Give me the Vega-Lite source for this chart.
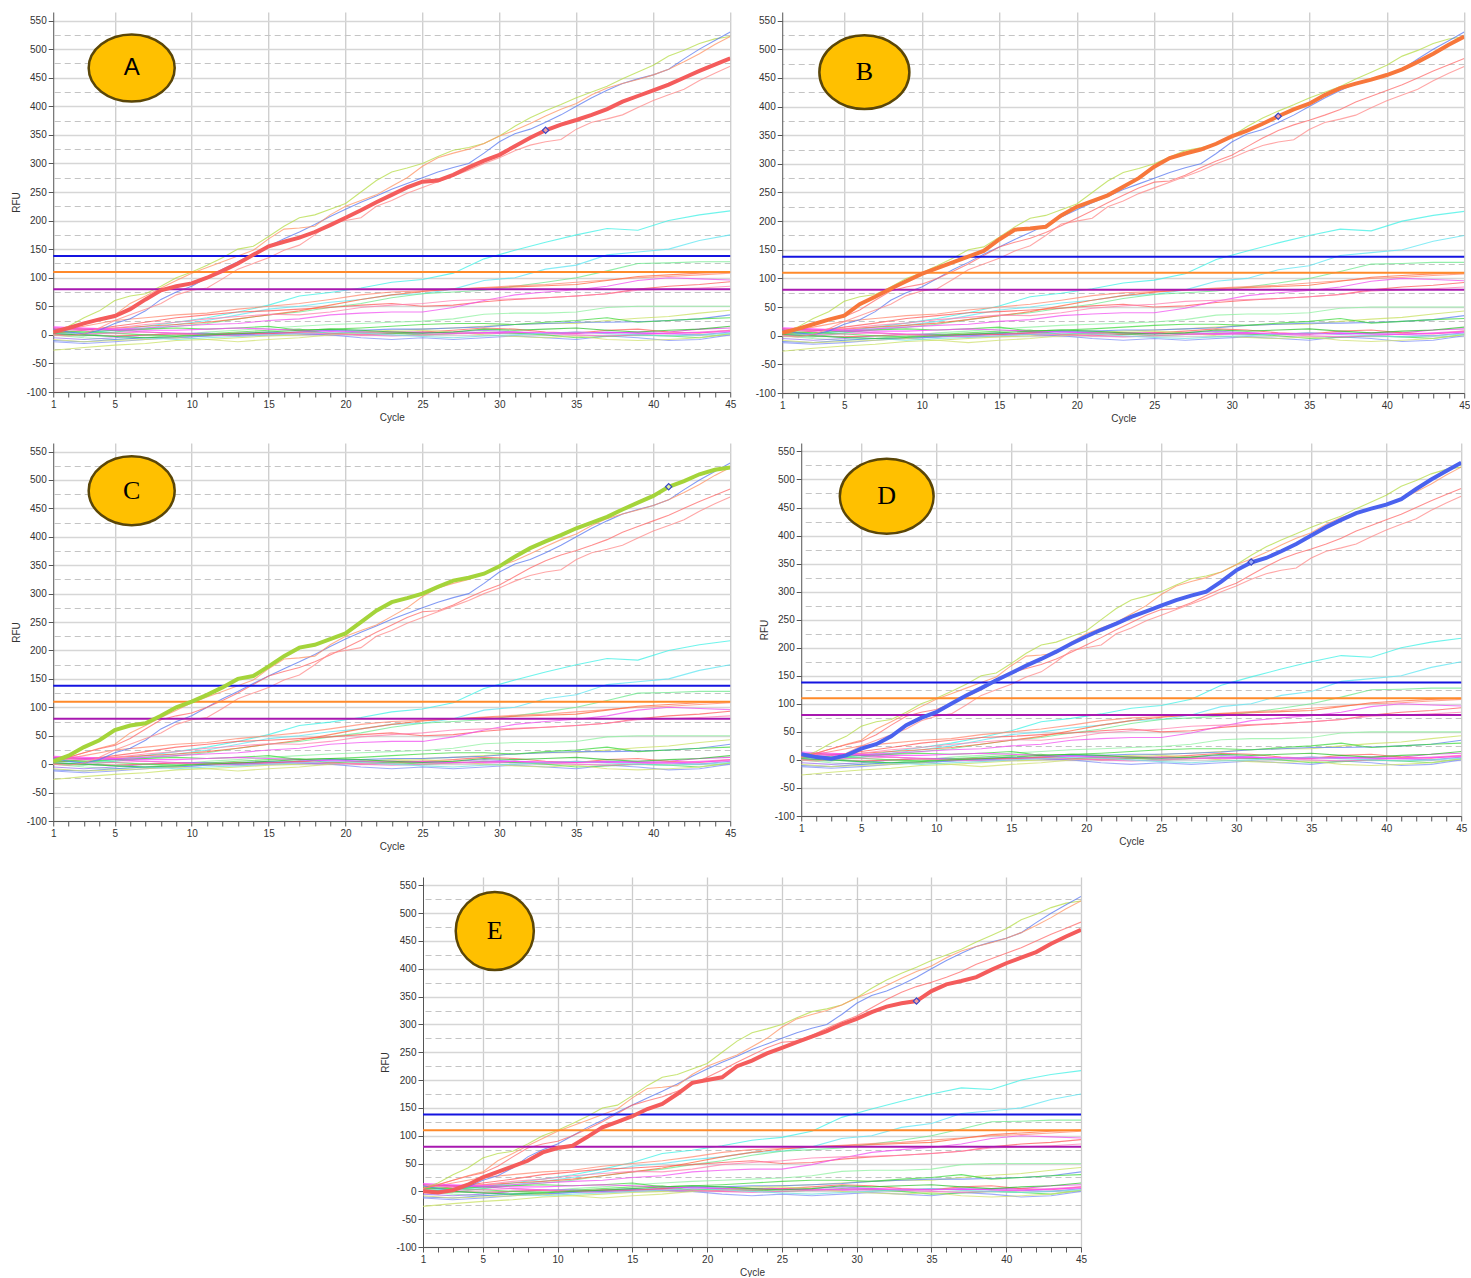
{
"$schema": "https://vega.github.io/schema/vega-lite/v6.json",
"background": "white",
"padding": {"left": 11, "top": 12, "right": 0, "bottom": 0},
"config": {
 "view": {"stroke": null},
 "axis": {"labelFont": "Liberation Sans", "labelFontSize": 10, "labelColor": "#333333", "titleFont": "Liberation Sans", "titleFontSize": 10, "titleFontWeight": "normal", "titleColor": "#333333", "tickColor": "#555555", "domainColor": "#555555", "tickSize": 5, "labelPadding": 2}
},
"datasets": {
"curves": [
{"s":"c1","c":1,"v":5},{"s":"c1","c":3,"v":3},{"s":"c1","c":5,"v":8},{"s":"c1","c":7,"v":15},{"s":"c1","c":9,"v":22},{"s":"c1","c":11,"v":30},{"s":"c1","c":13,"v":40},{"s":"c1","c":15,"v":52},{"s":"c1","c":17,"v":68},{"s":"c1","c":19,"v":74},{"s":"c1","c":21,"v":82},{"s":"c1","c":23,"v":92},{"s":"c1","c":25,"v":97},{"s":"c1","c":27,"v":108},{"s":"c1","c":29,"v":133},{"s":"c1","c":31,"v":148},{"s":"c1","c":33,"v":162},{"s":"c1","c":35,"v":175},{"s":"c1","c":37,"v":186},{"s":"c1","c":39,"v":183},{"s":"c1","c":41,"v":200},{"s":"c1","c":43,"v":210},{"s":"c1","c":45,"v":217},
{"s":"c2","c":1,"v":0},{"s":"c2","c":3,"v":2},{"s":"c2","c":5,"v":5},{"s":"c2","c":7,"v":12},{"s":"c2","c":9,"v":18},{"s":"c2","c":11,"v":25},{"s":"c2","c":13,"v":35},{"s":"c2","c":15,"v":45},{"s":"c2","c":17,"v":50},{"s":"c2","c":19,"v":57},{"s":"c2","c":21,"v":62},{"s":"c2","c":23,"v":70},{"s":"c2","c":25,"v":72},{"s":"c2","c":27,"v":80},{"s":"c2","c":29,"v":95},{"s":"c2","c":31,"v":100},{"s":"c2","c":33,"v":115},{"s":"c2","c":35,"v":122},{"s":"c2","c":37,"v":140},{"s":"c2","c":39,"v":145},{"s":"c2","c":41,"v":150},{"s":"c2","c":43,"v":165},{"s":"c2","c":45,"v":175},
{"s":"g1","c":1,"v":0},{"s":"g1","c":3,"v":-2},{"s":"g1","c":5,"v":5},{"s":"g1","c":7,"v":10},{"s":"g1","c":9,"v":15},{"s":"g1","c":11,"v":20},{"s":"g1","c":13,"v":28},{"s":"g1","c":15,"v":35},{"s":"g1","c":17,"v":40},{"s":"g1","c":19,"v":48},{"s":"g1","c":21,"v":55},{"s":"g1","c":23,"v":65},{"s":"g1","c":25,"v":72},{"s":"g1","c":27,"v":75},{"s":"g1","c":29,"v":78},{"s":"g1","c":31,"v":85},{"s":"g1","c":33,"v":92},{"s":"g1","c":35,"v":100},{"s":"g1","c":37,"v":112},{"s":"g1","c":39,"v":125},{"s":"g1","c":41,"v":126},{"s":"g1","c":43,"v":128},{"s":"g1","c":45,"v":128},
{"s":"s1","c":1,"v":5},{"s":"s1","c":3,"v":15},{"s":"s1","c":5,"v":25},{"s":"s1","c":7,"v":30},{"s":"s1","c":9,"v":35},{"s":"s1","c":11,"v":38},{"s":"s1","c":13,"v":45},{"s":"s1","c":15,"v":50},{"s":"s1","c":17,"v":55},{"s":"s1","c":19,"v":62},{"s":"s1","c":21,"v":70},{"s":"s1","c":23,"v":75},{"s":"s1","c":25,"v":77},{"s":"s1","c":27,"v":80},{"s":"s1","c":29,"v":83},{"s":"s1","c":31,"v":86},{"s":"s1","c":33,"v":88},{"s":"s1","c":35,"v":92},{"s":"s1","c":37,"v":96},{"s":"s1","c":39,"v":100},{"s":"s1","c":41,"v":102},{"s":"s1","c":43,"v":105},{"s":"s1","c":45,"v":108},
{"s":"r1","c":1,"v":3},{"s":"r1","c":3,"v":8},{"s":"r1","c":5,"v":15},{"s":"r1","c":7,"v":22},{"s":"r1","c":9,"v":30},{"s":"r1","c":11,"v":35},{"s":"r1","c":13,"v":40},{"s":"r1","c":15,"v":42},{"s":"r1","c":17,"v":45},{"s":"r1","c":19,"v":48},{"s":"r1","c":21,"v":52},{"s":"r1","c":23,"v":55},{"s":"r1","c":25,"v":50},{"s":"r1","c":27,"v":52},{"s":"r1","c":29,"v":58},{"s":"r1","c":31,"v":62},{"s":"r1","c":33,"v":65},{"s":"r1","c":35,"v":68},{"s":"r1","c":37,"v":72},{"s":"r1","c":39,"v":80},{"s":"r1","c":41,"v":85},{"s":"r1","c":43,"v":88},{"s":"r1","c":45,"v":93},
{"s":"m1","c":1,"v":10},{"s":"m1","c":3,"v":8},{"s":"m1","c":5,"v":10},{"s":"m1","c":7,"v":12},{"s":"m1","c":9,"v":15},{"s":"m1","c":11,"v":18},{"s":"m1","c":13,"v":20},{"s":"m1","c":15,"v":25},{"s":"m1","c":17,"v":28},{"s":"m1","c":19,"v":35},{"s":"m1","c":21,"v":38},{"s":"m1","c":23,"v":40},{"s":"m1","c":25,"v":40},{"s":"m1","c":27,"v":48},{"s":"m1","c":29,"v":60},{"s":"m1","c":31,"v":70},{"s":"m1","c":33,"v":75},{"s":"m1","c":35,"v":79},{"s":"m1","c":37,"v":85},{"s":"m1","c":39,"v":95},{"s":"m1","c":41,"v":100},{"s":"m1","c":43,"v":98},{"s":"m1","c":45,"v":96},
{"s":"o1","c":1,"v":12},{"s":"o1","c":3,"v":10},{"s":"o1","c":5,"v":12},{"s":"o1","c":7,"v":15},{"s":"o1","c":9,"v":18},{"s":"o1","c":11,"v":22},{"s":"o1","c":13,"v":28},{"s":"o1","c":15,"v":35},{"s":"o1","c":17,"v":42},{"s":"o1","c":19,"v":52},{"s":"o1","c":21,"v":62},{"s":"o1","c":23,"v":70},{"s":"o1","c":25,"v":76},{"s":"o1","c":27,"v":80},{"s":"o1","c":29,"v":82},{"s":"o1","c":31,"v":84},{"s":"o1","c":33,"v":86},{"s":"o1","c":35,"v":88},{"s":"o1","c":37,"v":95},{"s":"o1","c":39,"v":102},{"s":"o1","c":41,"v":105},{"s":"o1","c":43,"v":108},{"s":"o1","c":45,"v":110},
{"s":"p1","c":1,"v":8},{"s":"p1","c":3,"v":10},{"s":"p1","c":5,"v":12},{"s":"p1","c":7,"v":18},{"s":"p1","c":9,"v":22},{"s":"p1","c":11,"v":28},{"s":"p1","c":13,"v":32},{"s":"p1","c":15,"v":36},{"s":"p1","c":17,"v":35},{"s":"p1","c":19,"v":40},{"s":"p1","c":21,"v":48},{"s":"p1","c":23,"v":52},{"s":"p1","c":25,"v":55},{"s":"p1","c":27,"v":60},{"s":"p1","c":29,"v":62},{"s":"p1","c":31,"v":63},{"s":"p1","c":33,"v":65},{"s":"p1","c":35,"v":68},{"s":"p1","c":37,"v":72},{"s":"p1","c":39,"v":78},{"s":"p1","c":41,"v":80},{"s":"p1","c":43,"v":82},{"s":"p1","c":45,"v":85},
{"s":"g2","c":1,"v":0},{"s":"g2","c":3,"v":-5},{"s":"g2","c":5,"v":-8},{"s":"g2","c":7,"v":-5},{"s":"g2","c":9,"v":0},{"s":"g2","c":11,"v":5},{"s":"g2","c":13,"v":8},{"s":"g2","c":15,"v":12},{"s":"g2","c":17,"v":15},{"s":"g2","c":19,"v":18},{"s":"g2","c":21,"v":20},{"s":"g2","c":23,"v":22},{"s":"g2","c":25,"v":24},{"s":"g2","c":27,"v":28},{"s":"g2","c":29,"v":36},{"s":"g2","c":31,"v":38},{"s":"g2","c":33,"v":38},{"s":"g2","c":35,"v":40},{"s":"g2","c":37,"v":48},{"s":"g2","c":39,"v":50},{"s":"g2","c":41,"v":50},{"s":"g2","c":43,"v":50},{"s":"g2","c":45,"v":50},
{"s":"y1","c":1,"v":-27},{"s":"y1","c":3,"v":-22},{"s":"y1","c":5,"v":-18},{"s":"y1","c":7,"v":-15},{"s":"y1","c":9,"v":-10},{"s":"y1","c":11,"v":-8},{"s":"y1","c":13,"v":-5},{"s":"y1","c":15,"v":-2},{"s":"y1","c":17,"v":0},{"s":"y1","c":19,"v":2},{"s":"y1","c":21,"v":5},{"s":"y1","c":23,"v":8},{"s":"y1","c":25,"v":10},{"s":"y1","c":27,"v":12},{"s":"y1","c":29,"v":15},{"s":"y1","c":31,"v":18},{"s":"y1","c":33,"v":20},{"s":"y1","c":35,"v":20},{"s":"y1","c":37,"v":25},{"s":"y1","c":39,"v":29},{"s":"y1","c":41,"v":32},{"s":"y1","c":43,"v":38},{"s":"y1","c":45,"v":43},
{"s":"b1","c":1,"v":-10},{"s":"b1","c":3,"v":-12},{"s":"b1","c":5,"v":-8},{"s":"b1","c":7,"v":-5},{"s":"b1","c":9,"v":-5},{"s":"b1","c":11,"v":-2},{"s":"b1","c":13,"v":0},{"s":"b1","c":15,"v":3},{"s":"b1","c":17,"v":5},{"s":"b1","c":19,"v":8},{"s":"b1","c":21,"v":8},{"s":"b1","c":23,"v":10},{"s":"b1","c":25,"v":10},{"s":"b1","c":27,"v":12},{"s":"b1","c":29,"v":14},{"s":"b1","c":31,"v":18},{"s":"b1","c":33,"v":20},{"s":"b1","c":35,"v":22},{"s":"b1","c":37,"v":22},{"s":"b1","c":39,"v":23},{"s":"b1","c":41,"v":25},{"s":"b1","c":43,"v":28},{"s":"b1","c":45,"v":35},
{"s":"g3","c":1,"v":5},{"s":"g3","c":3,"v":5},{"s":"g3","c":5,"v":8},{"s":"g3","c":7,"v":10},{"s":"g3","c":9,"v":12},{"s":"g3","c":11,"v":10},{"s":"g3","c":13,"v":12},{"s":"g3","c":15,"v":15},{"s":"g3","c":17,"v":8},{"s":"g3","c":19,"v":10},{"s":"g3","c":21,"v":12},{"s":"g3","c":23,"v":15},{"s":"g3","c":25,"v":18},{"s":"g3","c":27,"v":20},{"s":"g3","c":29,"v":20},{"s":"g3","c":31,"v":18},{"s":"g3","c":33,"v":22},{"s":"g3","c":35,"v":25},{"s":"g3","c":37,"v":30},{"s":"g3","c":39,"v":22},{"s":"g3","c":41,"v":25},{"s":"g3","c":43,"v":28},{"s":"g3","c":45,"v":30},
{"s":"m2","c":1,"v":12},{"s":"m2","c":3,"v":10},{"s":"m2","c":5,"v":8},{"s":"m2","c":7,"v":5},{"s":"m2","c":9,"v":3},{"s":"m2","c":11,"v":2},{"s":"m2","c":13,"v":2},{"s":"m2","c":15,"v":3},{"s":"m2","c":17,"v":2},{"s":"m2","c":19,"v":0},{"s":"m2","c":21,"v":2},{"s":"m2","c":23,"v":5},{"s":"m2","c":25,"v":5},{"s":"m2","c":27,"v":3},{"s":"m2","c":29,"v":2},{"s":"m2","c":31,"v":3},{"s":"m2","c":33,"v":2},{"s":"m2","c":35,"v":5},{"s":"m2","c":37,"v":3},{"s":"m2","c":39,"v":5},{"s":"m2","c":41,"v":5},{"s":"m2","c":43,"v":10},{"s":"m2","c":45,"v":12},
{"s":"v1","c":1,"v":-5},{"s":"v1","c":3,"v":-8},{"s":"v1","c":5,"v":-5},{"s":"v1","c":7,"v":0},{"s":"v1","c":9,"v":2},{"s":"v1","c":11,"v":3},{"s":"v1","c":13,"v":0},{"s":"v1","c":15,"v":2},{"s":"v1","c":17,"v":5},{"s":"v1","c":19,"v":8},{"s":"v1","c":21,"v":5},{"s":"v1","c":23,"v":2},{"s":"v1","c":25,"v":3},{"s":"v1","c":27,"v":5},{"s":"v1","c":29,"v":8},{"s":"v1","c":31,"v":5},{"s":"v1","c":33,"v":2},{"s":"v1","c":35,"v":3},{"s":"v1","c":37,"v":5},{"s":"v1","c":39,"v":3},{"s":"v1","c":41,"v":2},{"s":"v1","c":43,"v":0},{"s":"v1","c":45,"v":5},
{"s":"b2","c":1,"v":-12},{"s":"b2","c":3,"v":-15},{"s":"b2","c":5,"v":-12},{"s":"b2","c":7,"v":-8},{"s":"b2","c":9,"v":-5},{"s":"b2","c":11,"v":-2},{"s":"b2","c":13,"v":3},{"s":"b2","c":15,"v":5},{"s":"b2","c":17,"v":2},{"s":"b2","c":19,"v":0},{"s":"b2","c":21,"v":-5},{"s":"b2","c":23,"v":-8},{"s":"b2","c":25,"v":-5},{"s":"b2","c":27,"v":-8},{"s":"b2","c":29,"v":-5},{"s":"b2","c":31,"v":-2},{"s":"b2","c":33,"v":-5},{"s":"b2","c":35,"v":-8},{"s":"b2","c":37,"v":-2},{"s":"b2","c":39,"v":-5},{"s":"b2","c":41,"v":-10},{"s":"b2","c":43,"v":-8},{"s":"b2","c":45,"v":0},
{"s":"r2","c":1,"v":2},{"s":"r2","c":3,"v":0},{"s":"r2","c":5,"v":-2},{"s":"r2","c":7,"v":0},{"s":"r2","c":9,"v":2},{"s":"r2","c":11,"v":0},{"s":"r2","c":13,"v":3},{"s":"r2","c":15,"v":2},{"s":"r2","c":17,"v":5},{"s":"r2","c":19,"v":3},{"s":"r2","c":21,"v":0},{"s":"r2","c":23,"v":2},{"s":"r2","c":25,"v":5},{"s":"r2","c":27,"v":8},{"s":"r2","c":29,"v":12},{"s":"r2","c":31,"v":10},{"s":"r2","c":33,"v":5},{"s":"r2","c":35,"v":3},{"s":"r2","c":37,"v":8},{"s":"r2","c":39,"v":10},{"s":"r2","c":41,"v":5},{"s":"r2","c":43,"v":3},{"s":"r2","c":45,"v":8},
{"s":"g4","c":1,"v":8},{"s":"g4","c":3,"v":5},{"s":"g4","c":5,"v":3},{"s":"g4","c":7,"v":0},{"s":"g4","c":9,"v":-2},{"s":"g4","c":11,"v":2},{"s":"g4","c":13,"v":5},{"s":"g4","c":15,"v":8},{"s":"g4","c":17,"v":10},{"s":"g4","c":19,"v":2},{"s":"g4","c":21,"v":5},{"s":"g4","c":23,"v":3},{"s":"g4","c":25,"v":0},{"s":"g4","c":27,"v":2},{"s":"g4","c":29,"v":5},{"s":"g4","c":31,"v":3},{"s":"g4","c":33,"v":0},{"s":"g4","c":35,"v":-5},{"s":"g4","c":37,"v":-3},{"s":"g4","c":39,"v":0},{"s":"g4","c":41,"v":-2},{"s":"g4","c":43,"v":-5},{"s":"g4","c":45,"v":2},
{"s":"y2","c":1,"v":-8},{"s":"y2","c":3,"v":-12},{"s":"y2","c":5,"v":-10},{"s":"y2","c":7,"v":-8},{"s":"y2","c":9,"v":-5},{"s":"y2","c":11,"v":-8},{"s":"y2","c":13,"v":-12},{"s":"y2","c":15,"v":-8},{"s":"y2","c":17,"v":-5},{"s":"y2","c":19,"v":0},{"s":"y2","c":21,"v":3},{"s":"y2","c":23,"v":5},{"s":"y2","c":25,"v":8},{"s":"y2","c":27,"v":5},{"s":"y2","c":29,"v":0},{"s":"y2","c":31,"v":-3},{"s":"y2","c":33,"v":-5},{"s":"y2","c":35,"v":-2},{"s":"y2","c":37,"v":-8},{"s":"y2","c":39,"v":-10},{"s":"y2","c":41,"v":-8},{"s":"y2","c":43,"v":-5},{"s":"y2","c":45,"v":2},
{"s":"p2","c":1,"v":0},{"s":"p2","c":3,"v":2},{"s":"p2","c":5,"v":3},{"s":"p2","c":7,"v":5},{"s":"p2","c":9,"v":2},{"s":"p2","c":11,"v":0},{"s":"p2","c":13,"v":-2},{"s":"p2","c":15,"v":0},{"s":"p2","c":17,"v":3},{"s":"p2","c":19,"v":2},{"s":"p2","c":21,"v":0},{"s":"p2","c":23,"v":-2},{"s":"p2","c":25,"v":0},{"s":"p2","c":27,"v":2},{"s":"p2","c":29,"v":3},{"s":"p2","c":31,"v":5},{"s":"p2","c":33,"v":2},{"s":"p2","c":35,"v":0},{"s":"p2","c":37,"v":-2},{"s":"p2","c":39,"v":0},{"s":"p2","c":41,"v":3},{"s":"p2","c":43,"v":5},{"s":"p2","c":45,"v":8},
{"s":"c3","c":1,"v":3},{"s":"c3","c":3,"v":0},{"s":"c3","c":5,"v":-3},{"s":"c3","c":7,"v":-5},{"s":"c3","c":9,"v":-8},{"s":"c3","c":11,"v":-5},{"s":"c3","c":13,"v":-3},{"s":"c3","c":15,"v":0},{"s":"c3","c":17,"v":2},{"s":"c3","c":19,"v":5},{"s":"c3","c":21,"v":3},{"s":"c3","c":23,"v":0},{"s":"c3","c":25,"v":-3},{"s":"c3","c":27,"v":-5},{"s":"c3","c":29,"v":-2},{"s":"c3","c":31,"v":0},{"s":"c3","c":33,"v":3},{"s":"c3","c":35,"v":5},{"s":"c3","c":37,"v":2},{"s":"c3","c":39,"v":0},{"s":"c3","c":41,"v":-2},{"s":"c3","c":43,"v":0},{"s":"c3","c":45,"v":3},
{"s":"m3","c":1,"v":14},{"s":"m3","c":3,"v":12},{"s":"m3","c":5,"v":10},{"s":"m3","c":7,"v":8},{"s":"m3","c":9,"v":8},{"s":"m3","c":11,"v":10},{"s":"m3","c":13,"v":12},{"s":"m3","c":15,"v":10},{"s":"m3","c":17,"v":8},{"s":"m3","c":19,"v":6},{"s":"m3","c":21,"v":5},{"s":"m3","c":23,"v":5},{"s":"m3","c":25,"v":4},{"s":"m3","c":27,"v":3},{"s":"m3","c":29,"v":4},{"s":"m3","c":31,"v":5},{"s":"m3","c":33,"v":4},{"s":"m3","c":35,"v":3},{"s":"m3","c":37,"v":4},{"s":"m3","c":39,"v":3},{"s":"m3","c":41,"v":2},{"s":"m3","c":43,"v":4},{"s":"m3","c":45,"v":6},
{"s":"g5","c":1,"v":2},{"s":"g5","c":3,"v":0},{"s":"g5","c":5,"v":-3},{"s":"g5","c":7,"v":-5},{"s":"g5","c":9,"v":-3},{"s":"g5","c":11,"v":0},{"s":"g5","c":13,"v":2},{"s":"g5","c":15,"v":5},{"s":"g5","c":17,"v":8},{"s":"g5","c":19,"v":10},{"s":"g5","c":21,"v":8},{"s":"g5","c":23,"v":5},{"s":"g5","c":25,"v":3},{"s":"g5","c":27,"v":5},{"s":"g5","c":29,"v":10},{"s":"g5","c":31,"v":8},{"s":"g5","c":33,"v":10},{"s":"g5","c":35,"v":12},{"s":"g5","c":37,"v":8},{"s":"g5","c":39,"v":5},{"s":"g5","c":41,"v":8},{"s":"g5","c":43,"v":10},{"s":"g5","c":45,"v":15},
{"s":"yg","c":1,"v":5},{"s":"yg","c":2,"v":15},{"s":"yg","c":3,"v":30},{"s":"yg","c":4,"v":42},{"s":"yg","c":5,"v":60},{"s":"yg","c":6,"v":68},{"s":"yg","c":7,"v":72},{"s":"yg","c":8,"v":85},{"s":"yg","c":9,"v":100},{"s":"yg","c":10,"v":110},{"s":"yg","c":11,"v":122},{"s":"yg","c":12,"v":135},{"s":"yg","c":13,"v":150},{"s":"yg","c":14,"v":155},{"s":"yg","c":15,"v":172},{"s":"yg","c":16,"v":190},{"s":"yg","c":17,"v":205},{"s":"yg","c":18,"v":210},{"s":"yg","c":19,"v":220},{"s":"yg","c":20,"v":230},{"s":"yg","c":21,"v":250},{"s":"yg","c":22,"v":270},{"s":"yg","c":23,"v":285},{"s":"yg","c":24,"v":292},{"s":"yg","c":25,"v":300},{"s":"yg","c":26,"v":312},{"s":"yg","c":27,"v":323},{"s":"yg","c":28,"v":328},{"s":"yg","c":29,"v":335},{"s":"yg","c":30,"v":348},{"s":"yg","c":31,"v":365},{"s":"yg","c":32,"v":380},{"s":"yg","c":33,"v":392},{"s":"yg","c":34,"v":403},{"s":"yg","c":35,"v":415},{"s":"yg","c":36,"v":425},{"s":"yg","c":37,"v":435},{"s":"yg","c":38,"v":448},{"s":"yg","c":39,"v":460},{"s":"yg","c":40,"v":472},{"s":"yg","c":41,"v":488},{"s":"yg","c":42,"v":498},{"s":"yg","c":43,"v":510},{"s":"yg","c":44,"v":518},{"s":"yg","c":45,"v":522},
{"s":"bl","c":1,"v":10},{"s":"bl","c":2,"v":5},{"s":"bl","c":3,"v":2},{"s":"bl","c":4,"v":8},{"s":"bl","c":5,"v":20},{"s":"bl","c":6,"v":28},{"s":"bl","c":7,"v":42},{"s":"bl","c":8,"v":62},{"s":"bl","c":9,"v":75},{"s":"bl","c":10,"v":85},{"s":"bl","c":11,"v":100},{"s":"bl","c":12,"v":115},{"s":"bl","c":13,"v":128},{"s":"bl","c":14,"v":142},{"s":"bl","c":15,"v":155},{"s":"bl","c":16,"v":168},{"s":"bl","c":17,"v":180},{"s":"bl","c":18,"v":193},{"s":"bl","c":19,"v":207},{"s":"bl","c":20,"v":220},{"s":"bl","c":21,"v":232},{"s":"bl","c":22,"v":243},{"s":"bl","c":23,"v":255},{"s":"bl","c":24,"v":265},{"s":"bl","c":25,"v":275},{"s":"bl","c":26,"v":285},{"s":"bl","c":27,"v":293},{"s":"bl","c":28,"v":300},{"s":"bl","c":29,"v":318},{"s":"bl","c":30,"v":338},{"s":"bl","c":31,"v":352},{"s":"bl","c":32,"v":360},{"s":"bl","c":33,"v":372},{"s":"bl","c":34,"v":385},{"s":"bl","c":35,"v":400},{"s":"bl","c":36,"v":415},{"s":"bl","c":37,"v":428},{"s":"bl","c":38,"v":440},{"s":"bl","c":39,"v":448},{"s":"bl","c":40,"v":455},{"s":"bl","c":41,"v":465},{"s":"bl","c":42,"v":483},{"s":"bl","c":43,"v":500},{"s":"bl","c":44,"v":515},{"s":"bl","c":45,"v":530},
{"s":"or","c":1,"v":5},{"s":"or","c":2,"v":12},{"s":"or","c":3,"v":20},{"s":"or","c":4,"v":28},{"s":"or","c":5,"v":35},{"s":"or","c":6,"v":55},{"s":"or","c":7,"v":68},{"s":"or","c":8,"v":82},{"s":"or","c":9,"v":95},{"s":"or","c":10,"v":108},{"s":"or","c":11,"v":118},{"s":"or","c":12,"v":128},{"s":"or","c":13,"v":138},{"s":"or","c":14,"v":148},{"s":"or","c":15,"v":168},{"s":"or","c":16,"v":185},{"s":"or","c":17,"v":187},{"s":"or","c":18,"v":190},{"s":"or","c":19,"v":210},{"s":"or","c":20,"v":225},{"s":"or","c":21,"v":235},{"s":"or","c":22,"v":245},{"s":"or","c":23,"v":260},{"s":"or","c":24,"v":275},{"s":"or","c":25,"v":295},{"s":"or","c":26,"v":310},{"s":"or","c":27,"v":318},{"s":"or","c":28,"v":325},{"s":"or","c":29,"v":335},{"s":"or","c":30,"v":348},{"s":"or","c":31,"v":358},{"s":"or","c":32,"v":370},{"s":"or","c":33,"v":383},{"s":"or","c":34,"v":395},{"s":"or","c":35,"v":405},{"s":"or","c":36,"v":420},{"s":"or","c":37,"v":432},{"s":"or","c":38,"v":440},{"s":"or","c":39,"v":447},{"s":"or","c":40,"v":455},{"s":"or","c":41,"v":465},{"s":"or","c":42,"v":478},{"s":"or","c":43,"v":492},{"s":"or","c":44,"v":508},{"s":"or","c":45,"v":522},
{"s":"ra","c":1,"v":5},{"s":"ra","c":2,"v":12},{"s":"ra","c":3,"v":20},{"s":"ra","c":4,"v":27},{"s":"ra","c":5,"v":33},{"s":"ra","c":6,"v":45},{"s":"ra","c":7,"v":62},{"s":"ra","c":8,"v":78},{"s":"ra","c":9,"v":85},{"s":"ra","c":10,"v":90},{"s":"ra","c":11,"v":100},{"s":"ra","c":12,"v":112},{"s":"ra","c":13,"v":125},{"s":"ra","c":14,"v":140},{"s":"ra","c":15,"v":155},{"s":"ra","c":16,"v":163},{"s":"ra","c":17,"v":170},{"s":"ra","c":18,"v":180},{"s":"ra","c":19,"v":192},{"s":"ra","c":20,"v":205},{"s":"ra","c":21,"v":218},{"s":"ra","c":22,"v":232},{"s":"ra","c":23,"v":245},{"s":"ra","c":24,"v":258},{"s":"ra","c":25,"v":268},{"s":"ra","c":26,"v":270},{"s":"ra","c":27,"v":280},{"s":"ra","c":28,"v":293},{"s":"ra","c":29,"v":305},{"s":"ra","c":30,"v":315},{"s":"ra","c":31,"v":330},{"s":"ra","c":32,"v":345},{"s":"ra","c":33,"v":358},{"s":"ra","c":34,"v":368},{"s":"ra","c":35,"v":376},{"s":"ra","c":36,"v":385},{"s":"ra","c":37,"v":395},{"s":"ra","c":38,"v":408},{"s":"ra","c":39,"v":418},{"s":"ra","c":40,"v":428},{"s":"ra","c":41,"v":438},{"s":"ra","c":42,"v":450},{"s":"ra","c":43,"v":462},{"s":"ra","c":44,"v":473},{"s":"ra","c":45,"v":484},
{"s":"re","c":1,"v":0},{"s":"re","c":2,"v":-2},{"s":"re","c":3,"v":2},{"s":"re","c":4,"v":12},{"s":"re","c":5,"v":25},{"s":"re","c":6,"v":35},{"s":"re","c":7,"v":45},{"s":"re","c":8,"v":55},{"s":"re","c":9,"v":70},{"s":"re","c":10,"v":78},{"s":"re","c":11,"v":82},{"s":"re","c":12,"v":98},{"s":"re","c":13,"v":115},{"s":"re","c":14,"v":125},{"s":"re","c":15,"v":135},{"s":"re","c":16,"v":148},{"s":"re","c":17,"v":157},{"s":"re","c":18,"v":175},{"s":"re","c":19,"v":195},{"s":"re","c":20,"v":200},{"s":"re","c":21,"v":205},{"s":"re","c":22,"v":225},{"s":"re","c":23,"v":235},{"s":"re","c":24,"v":248},{"s":"re","c":25,"v":258},{"s":"re","c":26,"v":268},{"s":"re","c":27,"v":278},{"s":"re","c":28,"v":288},{"s":"re","c":29,"v":300},{"s":"re","c":30,"v":310},{"s":"re","c":31,"v":322},{"s":"re","c":32,"v":332},{"s":"re","c":33,"v":338},{"s":"re","c":34,"v":342},{"s":"re","c":35,"v":360},{"s":"re","c":36,"v":372},{"s":"re","c":37,"v":378},{"s":"re","c":38,"v":385},{"s":"re","c":39,"v":398},{"s":"re","c":40,"v":410},{"s":"re","c":41,"v":420},{"s":"re","c":42,"v":430},{"s":"re","c":43,"v":445},{"s":"re","c":44,"v":458},{"s":"re","c":45,"v":470}
],
"one": [{}]
},
"vconcat": [
{"vconcat": [
{"hconcat": [
{"width": 677, "height": 380,
 "resolve": {"axis": {"x": "independent", "y": "independent"}},
 "layer": [
  {"data": {"name": "curves"}, "mark": {"type": "line", "strokeWidth": 1.1, "opacity": 0.75, "clip": true},
   "encoding": {
    "x": {"field": "c", "type": "quantitative", "scale": {"domain": [1, 45], "nice": false, "zero": false}, "axis": {"values": [1,2,3,4,5,6,7,8,9,10,11,12,13,14,15,16,17,18,19,20,21,22,23,24,25,26,27,28,29,30,31,32,33,34,35,36,37,38,39,40,41,42,43,44,45], "labelExpr": "datum.value==1||datum.value%5==0?datum.label:''", "labelOverlap": false, "labelFlush": false, "grid": false, "title": "Cycle", "titlePadding": 3}},
    "y": {"field": "v", "type": "quantitative", "scale": {"domain": [-100, 565], "nice": false, "zero": false}, "axis": {"values": [-100,-50,0,50,100,150,200,250,300,350,400,450,500,550], "labelExpr": "toString(datum.value)", "grid": true, "gridColor": "#d6d6d6", "gridWidth": 1.5, "title": "RFU", "titlePadding": 5}},
    "color": {"field": "s", "type": "nominal", "legend": null, "scale": {"domain": ["c1","c2","g1","s1","r1","m1","o1","p1","g2","y1","b1","g3","m2","v1","b2","r2","g4","y2","p2","c3","m3","g5","yg","bl","or","ra","re"], "range": ["#3ff0e6","#5fe6f2","#6fe88f","#ff8a70","#ff5a5a","#f050f0","#ff6a40","#ff80b0","#8ff0a0","#c8e060","#6080f0","#40d840","#e040e0","#a070f0","#8090f8","#ff6060","#50e050","#d0e070","#ff70d0","#70e0e0","#ff40ff","#30c030","#b5dc48","#5a78f0","#ff9466","#ff6b6b","#ff8a8a"]}}
   }},
  {"data": {"name": "one"}, "mark": {"type": "rule", "color": "#1414e0", "strokeWidth": 2}, "encoding": {"y": {"datum": 138, "type": "quantitative", "axis": null}}},
  {"data": {"name": "one"}, "mark": {"type": "rule", "color": "#ff8a2a", "strokeWidth": 2}, "encoding": {"y": {"datum": 110, "type": "quantitative", "axis": null}}},
  {"data": {"name": "one"}, "mark": {"type": "rule", "color": "#a818b0", "strokeWidth": 2}, "encoding": {"y": {"datum": 80, "type": "quantitative", "axis": null}}},
  {"data": {"name": "curves"}, "transform": [{"filter": "datum.s=='ra'"}], "mark": {"type": "line", "strokeWidth": 4, "color": "#f45c5c", "clip": true},
   "encoding": {
    "x": {"field": "c", "type": "quantitative", "axis": {"orient": "top", "values": [5,10,15,20,25,30,35,40,45], "grid": true, "gridColor": "#cccccc", "gridWidth": 1.3, "labels": false, "ticks": false, "domain": false, "title": null}},
    "y": {"field": "v", "type": "quantitative", "axis": {"orient": "right", "values": [-75,-25,25,75,125,175,225,275,325,375,425,475,525], "grid": true, "gridColor": "#c4c4c4", "gridDash": [6, 4], "gridWidth": 1.2, "labels": false, "ticks": false, "domain": false, "title": null}}
   }},
  {"data": {"values": [{"c": 33, "v": 358}]}, "mark": {"type": "point", "shape": "diamond", "size": 40, "filled": true, "fill": "#f3a0a0", "stroke": "#3848c8", "strokeWidth": 1.2, "opacity": 1},
   "encoding": {"x": {"field": "c", "type": "quantitative", "axis": null}, "y": {"field": "v", "type": "quantitative", "axis": null}}},
  {"data": {"values": [{"c": 6.1, "v": 467, "t": "A"}]}, "mark": {"type": "point", "shape": "M-1,0A1,0.78,0,1,1,1,0A1,0.78,0,1,1,-1,0Z", "size": 7400, "filled": true, "fill": "#ffc000", "stroke": "#5a4608", "strokeWidth": 2.5, "opacity": 1},
   "encoding": {"x": {"field": "c", "type": "quantitative", "axis": null}, "y": {"field": "v", "type": "quantitative", "axis": null}}},
  {"data": {"values": [{"c": 6.1, "v": 467, "t": "A"}]}, "mark": {"type": "text", "font": "Liberation Sans", "fontSize": 24, "color": "#000000"},
   "encoding": {"x": {"field": "c", "type": "quantitative", "axis": null}, "y": {"field": "v", "type": "quantitative", "axis": null}, "text": {"field": "t"}}}
 ]},
{"width": 682, "height": 381,
 "resolve": {"axis": {"x": "independent", "y": "independent"}},
 "layer": [
  {"data": {"name": "curves"}, "mark": {"type": "line", "strokeWidth": 1.1, "opacity": 0.75, "clip": true},
   "encoding": {
    "x": {"field": "c", "type": "quantitative", "scale": {"domain": [1, 45], "nice": false, "zero": false}, "axis": {"values": [1,2,3,4,5,6,7,8,9,10,11,12,13,14,15,16,17,18,19,20,21,22,23,24,25,26,27,28,29,30,31,32,33,34,35,36,37,38,39,40,41,42,43,44,45], "labelExpr": "datum.value==1||datum.value%5==0?datum.label:''", "labelOverlap": false, "labelFlush": false, "grid": false, "title": "Cycle", "titlePadding": 3}},
    "y": {"field": "v", "type": "quantitative", "scale": {"domain": [-100, 565], "nice": false, "zero": false}, "axis": {"values": [-100,-50,0,50,100,150,200,250,300,350,400,450,500,550], "labelExpr": "toString(datum.value)", "grid": true, "gridColor": "#d6d6d6", "gridWidth": 1.5, "title": null}},
    "color": {"field": "s", "type": "nominal", "legend": null, "scale": {"domain": ["c1","c2","g1","s1","r1","m1","o1","p1","g2","y1","b1","g3","m2","v1","b2","r2","g4","y2","p2","c3","m3","g5","yg","bl","or","ra","re"], "range": ["#3ff0e6","#5fe6f2","#6fe88f","#ff8a70","#ff5a5a","#f050f0","#ff6a40","#ff80b0","#8ff0a0","#c8e060","#6080f0","#40d840","#e040e0","#a070f0","#8090f8","#ff6060","#50e050","#d0e070","#ff70d0","#70e0e0","#ff40ff","#30c030","#b5dc48","#5a78f0","#ff9466","#ff6b6b","#ff8a8a"]}}
   }},
  {"data": {"name": "one"}, "mark": {"type": "rule", "color": "#1414e0", "strokeWidth": 2}, "encoding": {"y": {"datum": 138, "type": "quantitative", "axis": null}}},
  {"data": {"name": "one"}, "mark": {"type": "rule", "color": "#ff8a2a", "strokeWidth": 2}, "encoding": {"y": {"datum": 110, "type": "quantitative", "axis": null}}},
  {"data": {"name": "one"}, "mark": {"type": "rule", "color": "#a818b0", "strokeWidth": 2}, "encoding": {"y": {"datum": 80, "type": "quantitative", "axis": null}}},
  {"data": {"name": "curves"}, "transform": [{"filter": "datum.s=='or'"}], "mark": {"type": "line", "strokeWidth": 4, "color": "#f7773b", "clip": true},
   "encoding": {
    "x": {"field": "c", "type": "quantitative", "axis": {"orient": "top", "values": [5,10,15,20,25,30,35,40,45], "grid": true, "gridColor": "#cccccc", "gridWidth": 1.3, "labels": false, "ticks": false, "domain": false, "title": null}},
    "y": {"field": "v", "type": "quantitative", "axis": {"orient": "right", "values": [-75,-25,25,75,125,175,225,275,325,375,425,475,525], "grid": true, "gridColor": "#c4c4c4", "gridDash": [6, 4], "gridWidth": 1.2, "labels": false, "ticks": false, "domain": false, "title": null}}
   }},
  {"data": {"values": [{"c": 33, "v": 383}]}, "mark": {"type": "point", "shape": "diamond", "size": 40, "filled": true, "fill": "#f3a0a0", "stroke": "#3848c8", "strokeWidth": 1.2, "opacity": 1},
   "encoding": {"x": {"field": "c", "type": "quantitative", "axis": null}, "y": {"field": "v", "type": "quantitative", "axis": null}}},
  {"data": {"values": [{"c": 6.3, "v": 460, "t": "B"}]}, "mark": {"type": "point", "shape": "M-1,0A1,0.82,0,1,1,1,0A1,0.82,0,1,1,-1,0Z", "size": 8100, "filled": true, "fill": "#ffc000", "stroke": "#5a4608", "strokeWidth": 2.5, "opacity": 1},
   "encoding": {"x": {"field": "c", "type": "quantitative", "axis": null}, "y": {"field": "v", "type": "quantitative", "axis": null}}},
  {"data": {"values": [{"c": 6.3, "v": 460, "t": "B"}]}, "mark": {"type": "text", "font": "Liberation Serif", "fontSize": 26, "color": "#000000"},
   "encoding": {"x": {"field": "c", "type": "quantitative", "axis": null}, "y": {"field": "v", "type": "quantitative", "axis": null}, "text": {"field": "t"}}}
 ]}
], "spacing": 18},
{"hconcat": [
{"width": 677, "height": 378,
 "resolve": {"axis": {"x": "independent", "y": "independent"}},
 "layer": [
  {"data": {"name": "curves"}, "mark": {"type": "line", "strokeWidth": 1.1, "opacity": 0.75, "clip": true},
   "encoding": {
    "x": {"field": "c", "type": "quantitative", "scale": {"domain": [1, 45], "nice": false, "zero": false}, "axis": {"values": [1,2,3,4,5,6,7,8,9,10,11,12,13,14,15,16,17,18,19,20,21,22,23,24,25,26,27,28,29,30,31,32,33,34,35,36,37,38,39,40,41,42,43,44,45], "labelExpr": "datum.value==1||datum.value%5==0?datum.label:''", "labelOverlap": false, "labelFlush": false, "grid": false, "title": "Cycle", "titlePadding": 3}},
    "y": {"field": "v", "type": "quantitative", "scale": {"domain": [-100, 565], "nice": false, "zero": false}, "axis": {"values": [-100,-50,0,50,100,150,200,250,300,350,400,450,500,550], "labelExpr": "toString(datum.value)", "grid": true, "gridColor": "#d6d6d6", "gridWidth": 1.5, "title": "RFU", "titlePadding": 5}},
    "color": {"field": "s", "type": "nominal", "legend": null, "scale": {"domain": ["c1","c2","g1","s1","r1","m1","o1","p1","g2","y1","b1","g3","m2","v1","b2","r2","g4","y2","p2","c3","m3","g5","yg","bl","or","ra","re"], "range": ["#3ff0e6","#5fe6f2","#6fe88f","#ff8a70","#ff5a5a","#f050f0","#ff6a40","#ff80b0","#8ff0a0","#c8e060","#6080f0","#40d840","#e040e0","#a070f0","#8090f8","#ff6060","#50e050","#d0e070","#ff70d0","#70e0e0","#ff40ff","#30c030","#b5dc48","#5a78f0","#ff9466","#ff6b6b","#ff8a8a"]}}
   }},
  {"data": {"name": "one"}, "mark": {"type": "rule", "color": "#1414e0", "strokeWidth": 2}, "encoding": {"y": {"datum": 138, "type": "quantitative", "axis": null}}},
  {"data": {"name": "one"}, "mark": {"type": "rule", "color": "#ff8a2a", "strokeWidth": 2}, "encoding": {"y": {"datum": 110, "type": "quantitative", "axis": null}}},
  {"data": {"name": "one"}, "mark": {"type": "rule", "color": "#a818b0", "strokeWidth": 2}, "encoding": {"y": {"datum": 80, "type": "quantitative", "axis": null}}},
  {"data": {"name": "curves"}, "transform": [{"filter": "datum.s=='yg'"}], "mark": {"type": "line", "strokeWidth": 4, "color": "#a4d43a", "clip": true},
   "encoding": {
    "x": {"field": "c", "type": "quantitative", "axis": {"orient": "top", "values": [5,10,15,20,25,30,35,40,45], "grid": true, "gridColor": "#cccccc", "gridWidth": 1.3, "labels": false, "ticks": false, "domain": false, "title": null}},
    "y": {"field": "v", "type": "quantitative", "axis": {"orient": "right", "values": [-75,-25,25,75,125,175,225,275,325,375,425,475,525], "grid": true, "gridColor": "#c4c4c4", "gridDash": [6, 4], "gridWidth": 1.2, "labels": false, "ticks": false, "domain": false, "title": null}}
   }},
  {"data": {"values": [{"c": 41, "v": 488}]}, "mark": {"type": "point", "shape": "diamond", "size": 40, "filled": true, "fill": "#e0f0a0", "stroke": "#3848c8", "strokeWidth": 1.2, "opacity": 1},
   "encoding": {"x": {"field": "c", "type": "quantitative", "axis": null}, "y": {"field": "v", "type": "quantitative", "axis": null}}},
  {"data": {"values": [{"c": 6.1, "v": 481, "t": "C"}]}, "mark": {"type": "point", "shape": "M-1,0A1,0.8,0,1,1,1,0A1,0.8,0,1,1,-1,0Z", "size": 7400, "filled": true, "fill": "#ffc000", "stroke": "#5a4608", "strokeWidth": 2.5, "opacity": 1},
   "encoding": {"x": {"field": "c", "type": "quantitative", "axis": null}, "y": {"field": "v", "type": "quantitative", "axis": null}}},
  {"data": {"values": [{"c": 6.1, "v": 481, "t": "C"}]}, "mark": {"type": "text", "font": "Liberation Serif", "fontSize": 26, "color": "#000000"},
   "encoding": {"x": {"field": "c", "type": "quantitative", "axis": null}, "y": {"field": "v", "type": "quantitative", "axis": null}, "text": {"field": "t"}}}
 ]},
{"width": 660, "height": 373,
 "resolve": {"axis": {"x": "independent", "y": "independent"}},
 "layer": [
  {"data": {"name": "curves"}, "mark": {"type": "line", "strokeWidth": 1.1, "opacity": 0.75, "clip": true},
   "encoding": {
    "x": {"field": "c", "type": "quantitative", "scale": {"domain": [1, 45], "nice": false, "zero": false}, "axis": {"values": [1,2,3,4,5,6,7,8,9,10,11,12,13,14,15,16,17,18,19,20,21,22,23,24,25,26,27,28,29,30,31,32,33,34,35,36,37,38,39,40,41,42,43,44,45], "labelExpr": "datum.value==1||datum.value%5==0?datum.label:''", "labelOverlap": false, "labelFlush": false, "grid": false, "title": "Cycle", "titlePadding": 3}},
    "y": {"field": "v", "type": "quantitative", "scale": {"domain": [-100, 565], "nice": false, "zero": false}, "axis": {"values": [-100,-50,0,50,100,150,200,250,300,350,400,450,500,550], "labelExpr": "toString(datum.value)", "grid": true, "gridColor": "#d6d6d6", "gridWidth": 1.5, "title": "RFU", "titlePadding": 5}},
    "color": {"field": "s", "type": "nominal", "legend": null, "scale": {"domain": ["c1","c2","g1","s1","r1","m1","o1","p1","g2","y1","b1","g3","m2","v1","b2","r2","g4","y2","p2","c3","m3","g5","yg","bl","or","ra","re"], "range": ["#3ff0e6","#5fe6f2","#6fe88f","#ff8a70","#ff5a5a","#f050f0","#ff6a40","#ff80b0","#8ff0a0","#c8e060","#6080f0","#40d840","#e040e0","#a070f0","#8090f8","#ff6060","#50e050","#d0e070","#ff70d0","#70e0e0","#ff40ff","#30c030","#b5dc48","#5a78f0","#ff9466","#ff6b6b","#ff8a8a"]}}
   }},
  {"data": {"name": "one"}, "mark": {"type": "rule", "color": "#1414e0", "strokeWidth": 2}, "encoding": {"y": {"datum": 138, "type": "quantitative", "axis": null}}},
  {"data": {"name": "one"}, "mark": {"type": "rule", "color": "#ff8a2a", "strokeWidth": 2}, "encoding": {"y": {"datum": 110, "type": "quantitative", "axis": null}}},
  {"data": {"name": "one"}, "mark": {"type": "rule", "color": "#a818b0", "strokeWidth": 2}, "encoding": {"y": {"datum": 80, "type": "quantitative", "axis": null}}},
  {"data": {"name": "curves"}, "transform": [{"filter": "datum.s=='bl'"}], "mark": {"type": "line", "strokeWidth": 4, "color": "#4a62ee", "clip": true},
   "encoding": {
    "x": {"field": "c", "type": "quantitative", "axis": {"orient": "top", "values": [5,10,15,20,25,30,35,40,45], "grid": true, "gridColor": "#cccccc", "gridWidth": 1.3, "labels": false, "ticks": false, "domain": false, "title": null}},
    "y": {"field": "v", "type": "quantitative", "axis": {"orient": "right", "values": [-75,-25,25,75,125,175,225,275,325,375,425,475,525], "grid": true, "gridColor": "#c4c4c4", "gridDash": [6, 4], "gridWidth": 1.2, "labels": false, "ticks": false, "domain": false, "title": null}}
   }},
  {"data": {"values": [{"c": 31, "v": 353}]}, "mark": {"type": "point", "shape": "diamond", "size": 40, "filled": true, "fill": "#a0b0f8", "stroke": "#3848c8", "strokeWidth": 1.2, "opacity": 1},
   "encoding": {"x": {"field": "c", "type": "quantitative", "axis": null}, "y": {"field": "v", "type": "quantitative", "axis": null}}},
  {"data": {"values": [{"c": 6.7, "v": 470, "t": "D"}]}, "mark": {"type": "point", "shape": "M-1,0A1,0.8,0,1,1,1,0A1,0.8,0,1,1,-1,0Z", "size": 8800, "filled": true, "fill": "#ffc000", "stroke": "#5a4608", "strokeWidth": 2.5, "opacity": 1},
   "encoding": {"x": {"field": "c", "type": "quantitative", "axis": null}, "y": {"field": "v", "type": "quantitative", "axis": null}}},
  {"data": {"values": [{"c": 6.7, "v": 470, "t": "D"}]}, "mark": {"type": "text", "font": "Liberation Serif", "fontSize": 26, "color": "#000000"},
   "encoding": {"x": {"field": "c", "type": "quantitative", "axis": null}, "y": {"field": "v", "type": "quantitative", "axis": null}, "text": {"field": "t"}}}
 ]}
], "spacing": 22}
], "spacing": 20},
{"width": 658, "height": 370,
 "resolve": {"axis": {"x": "independent", "y": "independent"}},
 "layer": [
  {"data": {"name": "curves"}, "mark": {"type": "line", "strokeWidth": 1.1, "opacity": 0.75, "clip": true},
   "encoding": {
    "x": {"field": "c", "type": "quantitative", "scale": {"domain": [1, 45], "nice": false, "zero": false}, "axis": {"values": [1,2,3,4,5,6,7,8,9,10,11,12,13,14,15,16,17,18,19,20,21,22,23,24,25,26,27,28,29,30,31,32,33,34,35,36,37,38,39,40,41,42,43,44,45], "labelExpr": "datum.value==1||datum.value%5==0?datum.label:''", "labelOverlap": false, "labelFlush": false, "grid": false, "title": "Cycle", "titlePadding": 3}},
    "y": {"field": "v", "type": "quantitative", "scale": {"domain": [-100, 565], "nice": false, "zero": false}, "axis": {"values": [-100,-50,0,50,100,150,200,250,300,350,400,450,500,550], "labelExpr": "toString(datum.value)", "grid": true, "gridColor": "#d6d6d6", "gridWidth": 1.5, "title": "RFU", "titlePadding": 5}},
    "color": {"field": "s", "type": "nominal", "legend": null, "scale": {"domain": ["c1","c2","g1","s1","r1","m1","o1","p1","g2","y1","b1","g3","m2","v1","b2","r2","g4","y2","p2","c3","m3","g5","yg","bl","or","ra","re"], "range": ["#3ff0e6","#5fe6f2","#6fe88f","#ff8a70","#ff5a5a","#f050f0","#ff6a40","#ff80b0","#8ff0a0","#c8e060","#6080f0","#40d840","#e040e0","#a070f0","#8090f8","#ff6060","#50e050","#d0e070","#ff70d0","#70e0e0","#ff40ff","#30c030","#b5dc48","#5a78f0","#ff9466","#ff6b6b","#ff8a8a"]}}
   }},
  {"data": {"name": "one"}, "mark": {"type": "rule", "color": "#1414e0", "strokeWidth": 2}, "encoding": {"y": {"datum": 138, "type": "quantitative", "axis": null}}},
  {"data": {"name": "one"}, "mark": {"type": "rule", "color": "#ff8a2a", "strokeWidth": 2}, "encoding": {"y": {"datum": 110, "type": "quantitative", "axis": null}}},
  {"data": {"name": "one"}, "mark": {"type": "rule", "color": "#a818b0", "strokeWidth": 2}, "encoding": {"y": {"datum": 80, "type": "quantitative", "axis": null}}},
  {"data": {"name": "curves"}, "transform": [{"filter": "datum.s=='re'"}], "mark": {"type": "line", "strokeWidth": 4, "color": "#f45c5c", "clip": true},
   "encoding": {
    "x": {"field": "c", "type": "quantitative", "axis": {"orient": "top", "values": [5,10,15,20,25,30,35,40,45], "grid": true, "gridColor": "#cccccc", "gridWidth": 1.3, "labels": false, "ticks": false, "domain": false, "title": null}},
    "y": {"field": "v", "type": "quantitative", "axis": {"orient": "right", "values": [-75,-25,25,75,125,175,225,275,325,375,425,475,525], "grid": true, "gridColor": "#c4c4c4", "gridDash": [6, 4], "gridWidth": 1.2, "labels": false, "ticks": false, "domain": false, "title": "RFU", "titleOpacity": 0, "titlePadding": 9}}
   }},
  {"data": {"values": [{"c": 34, "v": 342}]}, "mark": {"type": "point", "shape": "diamond", "size": 40, "filled": true, "fill": "#f3a0a0", "stroke": "#3848c8", "strokeWidth": 1.2, "opacity": 1},
   "encoding": {"x": {"field": "c", "type": "quantitative", "axis": null}, "y": {"field": "v", "type": "quantitative", "axis": null}}},
  {"data": {"values": [{"c": 5.8, "v": 468, "t": "E"}]}, "mark": {"type": "point", "shape": "circle", "size": 6100, "filled": true, "fill": "#ffc000", "stroke": "#5a4608", "strokeWidth": 2.5, "opacity": 1},
   "encoding": {"x": {"field": "c", "type": "quantitative", "axis": null}, "y": {"field": "v", "type": "quantitative", "axis": null}}},
  {"data": {"values": [{"c": 5.8, "v": 468, "t": "E"}]}, "mark": {"type": "text", "font": "Liberation Serif", "fontSize": 26, "color": "#000000"},
   "encoding": {"x": {"field": "c", "type": "quantitative", "axis": null}, "y": {"field": "v", "type": "quantitative", "axis": null}, "text": {"field": "t"}}}
 ]}
],
"spacing": 26,
"center": true
}
